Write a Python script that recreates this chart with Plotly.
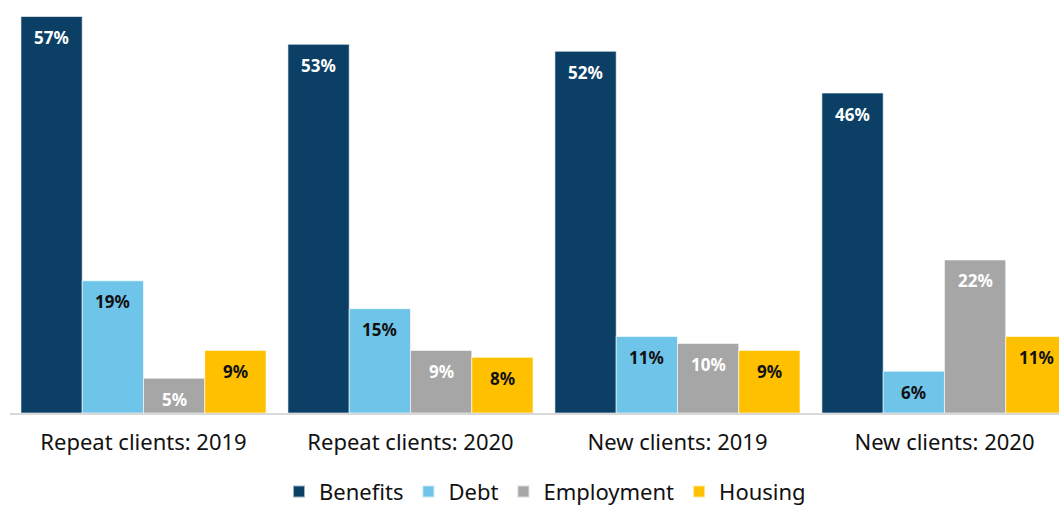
import plotly.graph_objects as go

groups = ["Repeat clients: 2019", "Repeat clients: 2020", "New clients: 2019", "New clients: 2020"]
benefits = [57, 53, 52, 46]
debt = [19, 15, 11, 6]
employment = [5, 9, 10, 22]
housing = [9, 8, 9, 11]

series = [
    ("Benefits", benefits, "#0b3f66", "white"),
    ("Debt", debt, "#6fc4ea", "#111111"),
    ("Employment", employment, "#a6a6a6", "white"),
    ("Housing", housing, "#ffc000", "#111111"),
]

FONT = "Noto Sans"
BARGAP = 0.082
n_series = len(series)
bar_w = (1 - BARGAP) / n_series

fig = go.Figure()
annotations = []
for k, (name, vals, color, tcolor) in enumerate(series):
    fig.add_trace(go.Bar(
        name=name,
        x=groups,
        y=vals,
        marker=dict(color=color, line=dict(color="rgba(255,255,255,0.6)", width=1)),
        hoverinfo="x+y+name",
    ))
    # value labels placed just inside the top of each bar
    for g, v in enumerate(vals):
        annotations.append(dict(
            x=g + (k - (n_series - 1) / 2) * bar_w,
            y=v,
            xref="x",
            yref="y",
            text=f"{v}%",
            showarrow=False,
            yanchor="middle",
            xanchor="center",
            yshift=-21,
            font=dict(family=FONT, size=17, color=tcolor, weight="bold"),
        ))

fig.update_layout(
    width=1059,
    height=505,
    barmode="group",
    bargap=BARGAP,
    bargroupgap=0,
    plot_bgcolor="white",
    paper_bgcolor="white",
    margin=dict(l=10, r=0, t=13, b=92, autoexpand=False),
    font=dict(family=FONT, color="#111111"),
    annotations=annotations,
    showlegend=True,
    legend=dict(
        orientation="h",
        x=0.51,
        xanchor="center",
        yref="paper",
        y=-0.197,
        yanchor="middle",
        font=dict(family=FONT, size=22, color="#111111"),
        itemsizing="constant",
        traceorder="normal",
    ),
)
fig.update_xaxes(
    range=[-0.5, 3.429],
    showline=True,
    linecolor="#d9d9d9",
    linewidth=2,
    ticks="",
    ticklabelstandoff=9,
    tickfont=dict(family=FONT, size=22, color="#111111"),
)
fig.update_yaxes(range=[0, 57.5], visible=False, showgrid=False)

fig.write_html("out.html")
